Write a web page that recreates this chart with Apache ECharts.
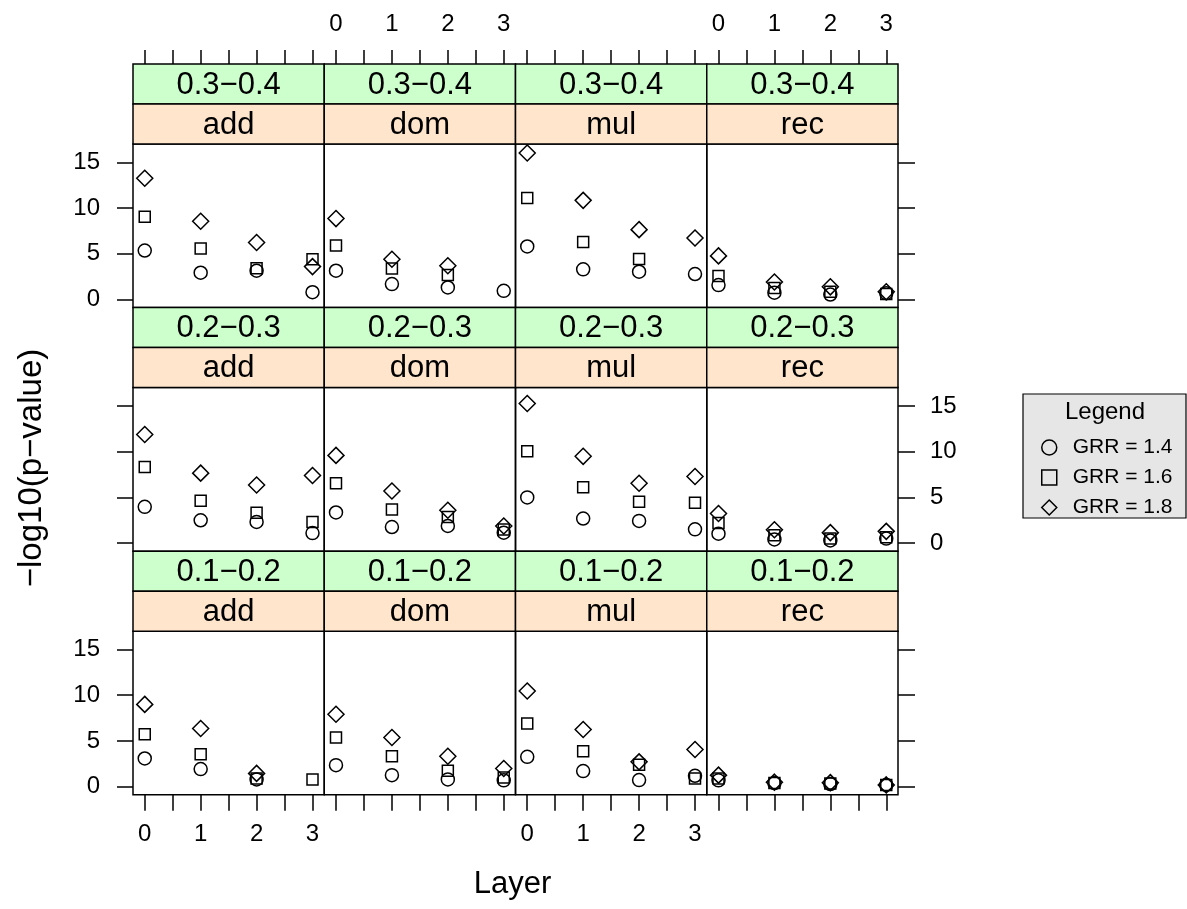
<!DOCTYPE html>
<html>
<head>
<meta charset="utf-8">
<script src="https://cdn.jsdelivr.net/npm/echarts@6/dist/echarts.min.js"></script>
<style>html,body{margin:0;padding:0;background:#fff}#chart{width:1187px;height:909px}</style>
</head>
<body>
<div id="chart"></div>
<script>
// ---------- data ----------
const layers = [0, 1, 2, 3];
const models = ['add', 'dom', 'mul', 'rec'];
const mafBins = ['0.3\u22120.4', '0.2\u22120.3', '0.1\u22120.2'];
const grrLabels = ['GRR = 1.4', 'GRR = 1.6', 'GRR = 1.8'];
const xTicks = [0, 0.5, 1, 1.5, 2, 2.5, 3];
const xTickLabels = [0, 1, 2, 3];
const yTickLabels = [0, 5, 10, 15];

// each panel: [GRR 1.4, GRR 1.6, GRR 1.8], values at layers 0..3 (null = not shown)
const add_03_04 = [[5.36, 2.93, 3.15, 0.80], [9.04, 5.58, 3.41, 4.41], [13.26, 8.56, 6.24, 3.60]];
const dom_03_04 = [[3.15, 1.69, 1.32, 0.95], [5.90, 3.40, 2.68, null], [8.85, 4.41, 3.70, null]];
const mul_03_04 = [[5.80, 3.30, 3.04, 2.79], [11.09, 6.28, 4.44, null], [16.02, 10.84, 7.64, 6.72]];
const rec_03_04 = [[1.58, 0.75, 0.55, 0.70], [2.57, 1.25, 0.85, 0.60], [4.77, 1.92, 1.39, 0.85]];

const add_02_03 = [[3.97, 2.50, 2.32, 1.10], [8.31, 4.63, 3.31, 2.32], [11.87, 7.65, 6.36, 7.39]];
const dom_02_03 = [[3.35, 1.76, 1.88, 1.14], [6.55, 3.68, 2.87, 1.50], [9.59, 5.70, 3.60, 1.88]];
const mul_02_03 = [[5.00, 2.69, 2.43, 1.51], [10.04, 6.10, 4.52, 4.41], [15.26, 9.49, 6.55, 7.28]];
const rec_02_03 = [[1.03, 0.40, 0.30, 0.50], [2.20, 0.85, 0.50, 0.65], [3.24, 1.47, 1.15, 1.29]];

const add_01_02 = [[3.09, 1.93, 0.80, null], [5.74, 3.56, 0.91, 0.80], [9.00, 6.36, 1.46, null]];
const dom_01_02 = [[2.36, 1.27, 0.80, 0.70], [5.38, 3.34, 1.74, 1.00], [7.92, 5.38, 3.34, 2.00]];
const mul_01_02 = [[3.27, 1.71, 0.73, 1.20], [6.90, 3.89, 2.40, 0.91], [10.46, 6.25, 2.72, 4.07]];
const rec_01_02 = [[0.70, 0.40, 0.30, 0.20], [0.90, 0.40, 0.35, 0.20], [1.27, 0.50, 0.45, 0.20]];

const panelRows = [
  [add_03_04, dom_03_04, mul_03_04, rec_03_04],
  [add_02_03, dom_02_03, mul_02_03, rec_02_03],
  [add_01_02, dom_01_02, mul_01_02, rec_01_02]
];

// ---------- layout ----------
const FONT = 'Liberation Sans, Arial, Helvetica, sans-serif';
const PANEL_L = 133, COL_W = 191.25, TOP0 = 64, STRIP_H = 40, PLOT_H = 163.6;
const ROW_H = 2 * STRIP_H + PLOT_H;
const X_MIN = -0.21, X_MAX = 3.21, Y_MIN = -0.88, Y_MAX = 17.0;
const symbols = ['circle', 'rect', 'diamond'];
const symbolSizes = [13, 11, 16];
const LW = 1.5;

const grids = [], xAxes = [], yAxes = [], series = [], graphics = [];

function tickAxisCommon(values, labelValues, showLabel, margin, len) {
  return {
    axisLine: { show: false, onZero: false },
    splitLine: { show: false },
    axisTick: { show: true, inside: false, length: len, customValues: values, lineStyle: { color: '#000', width: LW } },
    axisLabel: { show: showLabel, customValues: labelValues, margin: margin, fontSize: 24, color: '#000', fontFamily: FONT }
  };
}

for (let r = 0; r < 3; r++) {
  for (let c = 0; c < 4; c++) {
    const left = PANEL_L + c * COL_W;
    const rowTop = TOP0 + r * ROW_H;
    const plotTop = rowTop + 2 * STRIP_H;
    const gi = grids.length;
    grids.push({ left: left, top: plotTop, width: COL_W, height: PLOT_H, show: true,
      borderColor: '#000', borderWidth: LW, backgroundColor: 'rgba(0,0,0,0)', containLabel: false });
    const xi = xAxes.length;
    const showBottom = (r === 2);
    xAxes.push(Object.assign({ gridIndex: gi, type: 'value', min: X_MIN, max: X_MAX, position: 'bottom', show: showBottom },
      tickAxisCommon(xTicks, xTickLabels, c % 2 === 0, 28, 16)));
    const yi = yAxes.length;
    yAxes.push(Object.assign({ gridIndex: gi, type: 'value', min: Y_MIN, max: Y_MAX, position: 'left', show: c === 0 },
      tickAxisCommon(yTickLabels, yTickLabels, r !== 1, 33, 16)));
    if (c === 3) {
      yAxes.push(Object.assign({ gridIndex: gi, type: 'value', min: Y_MIN, max: Y_MAX, position: 'right', show: true },
        tickAxisCommon(yTickLabels, yTickLabels, r === 1, 32, 17)));
    }
    const panel = panelRows[r][c];
    for (let k = 0; k < 3; k++) {
      const pts = [];
      layers.forEach((x, i) => { if (panel[k][i] !== null) pts.push([x, panel[k][i]]); });
      series.push({
        type: 'scatter', name: grrLabels[k], xAxisIndex: xi, yAxisIndex: yi,
        symbol: symbols[k], symbolSize: symbolSizes[k], data: pts, silent: true,
        itemStyle: { color: 'rgba(0,0,0,0)', borderColor: '#000', borderWidth: LW, opacity: 1 },
        emphasis: { disabled: true }
      });
    }
    // strips
    graphics.push({ type: 'rect', shape: { x: left, y: rowTop, width: COL_W, height: STRIP_H },
      style: { fill: '#CCFFCC', stroke: '#000', lineWidth: LW }, z: 5 });
    graphics.push({ type: 'rect', shape: { x: left, y: rowTop + STRIP_H, width: COL_W, height: STRIP_H },
      style: { fill: '#FFE5CC', stroke: '#000', lineWidth: LW }, z: 5 });
    graphics.push({ type: 'text', x: left + COL_W / 2, y: rowTop + STRIP_H / 2 + 1, z: 6,
      style: { text: mafBins[r], fill: '#000', font: '31px ' + FONT, align: 'center', verticalAlign: 'middle' } });
    graphics.push({ type: 'text', x: left + COL_W / 2, y: rowTop + STRIP_H * 1.5 + 1, z: 6,
      style: { text: models[c], fill: '#000', font: '31px ' + FONT, align: 'center', verticalAlign: 'middle' } });
  }
}

// top axis (above strips) for the top row
for (let c = 0; c < 4; c++) {
  const gi = grids.length;
  grids.push({ left: PANEL_L + c * COL_W, top: TOP0, width: COL_W, height: ROW_H, show: false });
  xAxes.push(Object.assign({ gridIndex: gi, type: 'value', min: X_MIN, max: X_MAX, position: 'top', show: true },
    tickAxisCommon(xTicks, xTickLabels, c % 2 === 1, 28, 14)));
  yAxes.push({ gridIndex: gi, type: 'value', min: Y_MIN, max: Y_MAX, show: false });
}

// axis titles
graphics.push({ type: 'text', x: 32, y: 468, rotation: Math.PI / 2,
  style: { text: '\u2212log10(p\u2212value)', fill: '#000', font: '33px ' + FONT, align: 'center', verticalAlign: 'middle' } });
graphics.push({ type: 'text', x: PANEL_L + 2 * COL_W - 3, y: 884,
  style: { text: 'Layer', fill: '#000', font: '31px ' + FONT, align: 'center', verticalAlign: 'middle' } });

// legend box
graphics.push({ type: 'rect', shape: { x: 1023, y: 394, width: 163, height: 124 },
  style: { fill: '#E6E6E6', stroke: '#000', lineWidth: 1.2 }, z: 0 });
graphics.push({ type: 'text', x: 1105, y: 412, z: 1,
  style: { text: 'Legend', fill: '#000', font: '24px ' + FONT, align: 'center', verticalAlign: 'middle' } });

const chart = echarts.init(document.getElementById('chart'), null, { renderer: 'canvas' });
chart.setOption({
  animation: false,
  backgroundColor: '#fff',
  grid: grids,
  xAxis: xAxes,
  yAxis: yAxes,
  series: series,
  graphic: { elements: graphics },
  legend: {
    orient: 'vertical', left: 1036, top: 432, itemWidth: 15, itemHeight: 15, itemGap: 9,
    selectedMode: false, z: 10,
    data: grrLabels.map((n, k) => ({ name: n, icon: symbols[k] })),
    itemStyle: { color: 'rgba(0,0,0,0)', borderColor: '#000', borderWidth: LW },
    textStyle: { fontSize: 21, lineHeight: 21, color: '#000', fontFamily: FONT, padding: [0, 0, 0, 11] }
  }
});
</script>
</body>
</html>
